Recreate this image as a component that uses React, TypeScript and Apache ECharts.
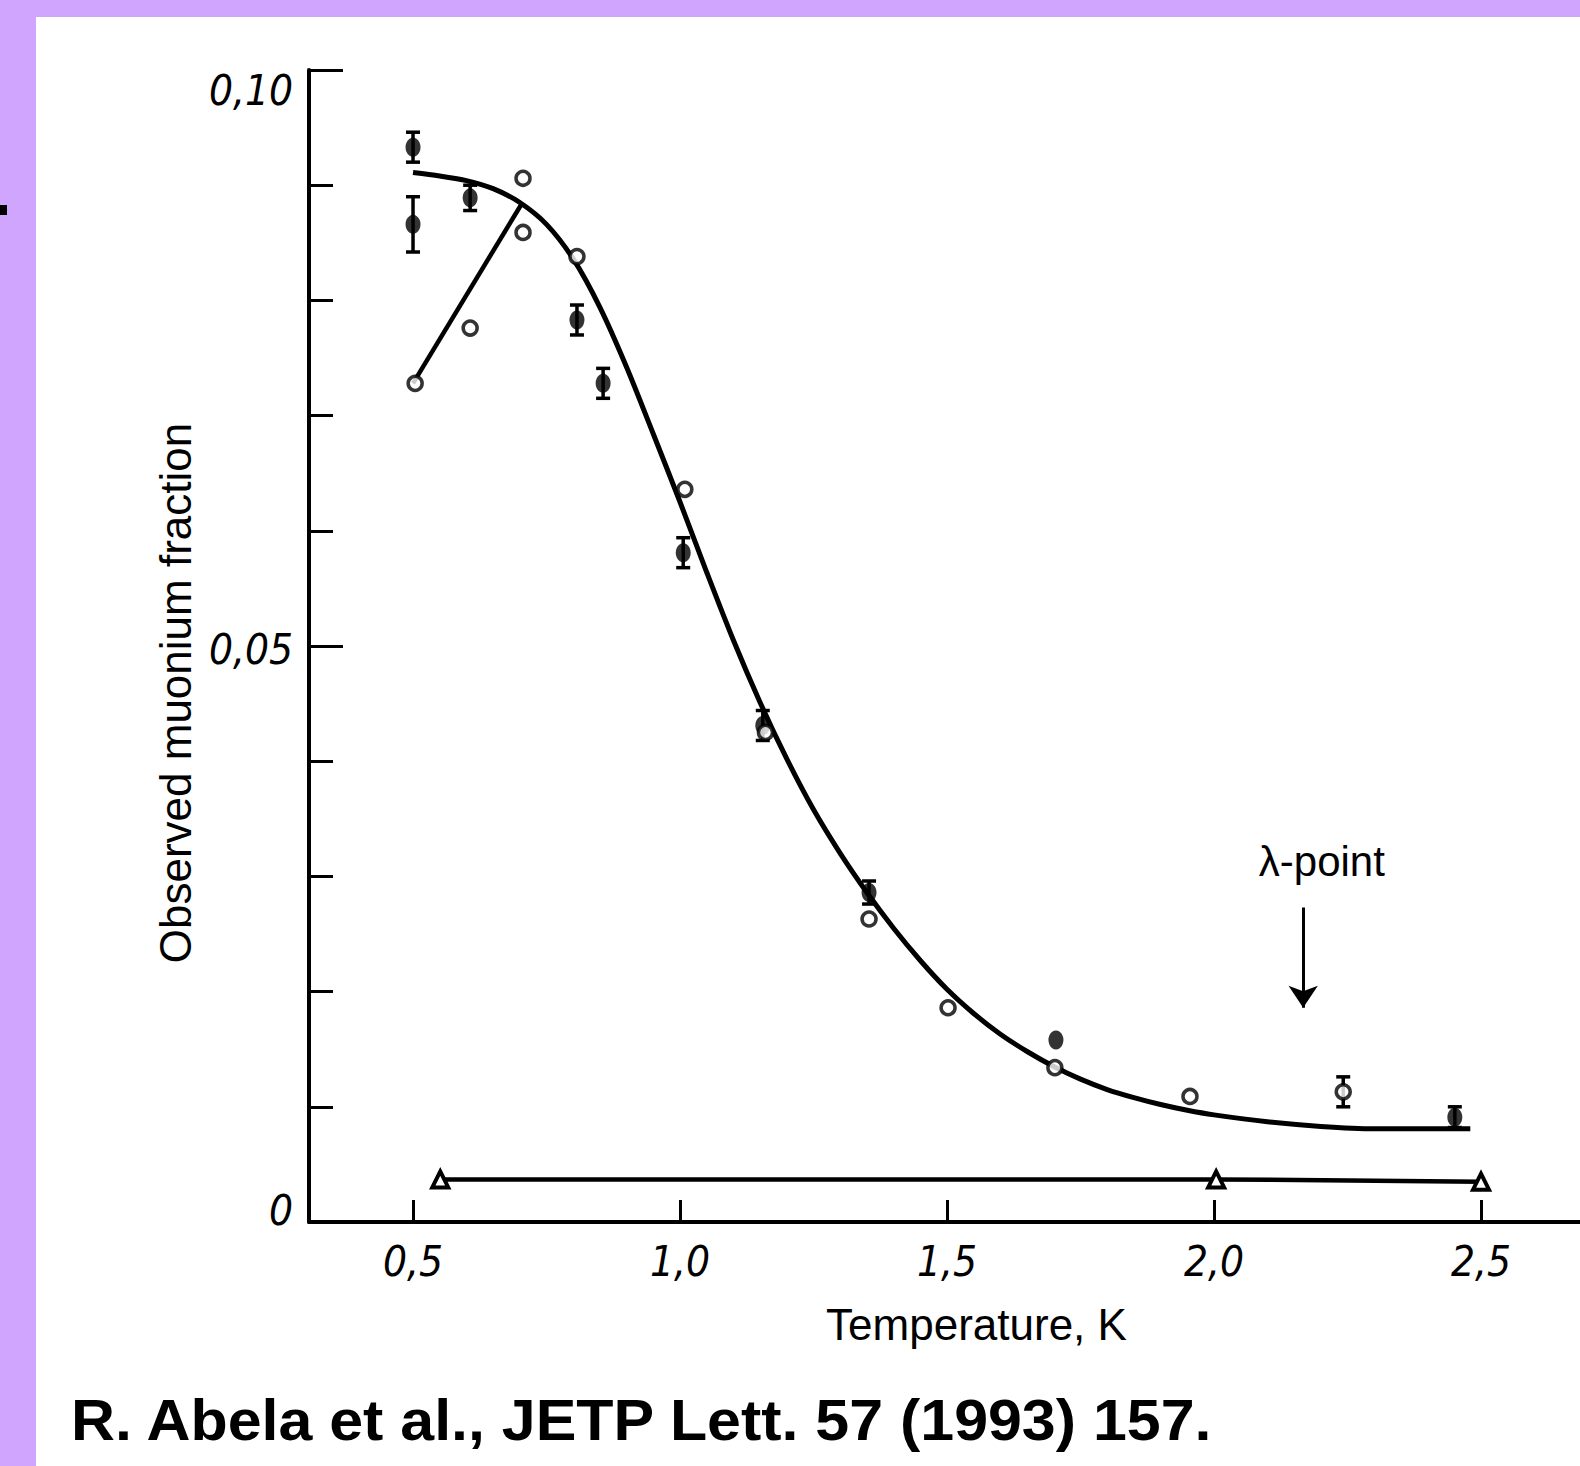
import React, { useEffect, useRef } from "react";
import * as echarts from "echarts";

// Fitted curve (solid line)
const curveT = [0.5, 0.55, 0.6, 0.65, 0.7, 0.75, 0.8, 0.85, 0.9, 0.95, 1.0, 1.05, 1.1, 1.15, 1.2, 1.25, 1.3, 1.35, 1.4, 1.45, 1.5, 1.55, 1.6, 1.65, 1.7, 1.75, 1.8, 1.85, 1.9, 1.95, 2.0, 2.1, 2.2, 2.3, 2.4, 2.48];
const curveV = [0.0911, 0.0908, 0.0904, 0.0897, 0.0885, 0.0866, 0.0836, 0.0794, 0.0742, 0.0684, 0.0625, 0.0564, 0.0505, 0.0451, 0.0402, 0.0358, 0.032, 0.0286, 0.0255, 0.0227, 0.0202, 0.0181, 0.0163, 0.0148, 0.0135, 0.0124, 0.0115, 0.0108, 0.0102, 0.0097, 0.0093, 0.0087, 0.0083, 0.0081, 0.0081, 0.0081];

// Lower straight branch (open circles)
const branchT = [0.5, 0.705];
const branchV = [0.0728, 0.0885];

// Filled points with error bars
const filledT = [0.5, 0.5, 0.607, 0.807, 0.856, 1.006, 1.155, 1.354, 1.704, 2.451];
const filledV = [0.0933, 0.0866, 0.0889, 0.0783, 0.0728, 0.0581, 0.0431, 0.0286, 0.0158, 0.0091];
const filledErr = [0.0013, 0.0024, 0.0011, 0.0013, 0.0013, 0.0013, 0.0013, 0.001, 0, 0.0009];

// Open circles
const openT = [0.504, 0.607, 0.706, 0.706, 0.807, 1.009, 1.16, 1.354, 1.502, 1.702, 1.955, 2.242];
const openV = [0.0728, 0.0776, 0.0906, 0.0859, 0.0838, 0.0636, 0.0425, 0.0263, 0.0186, 0.0134, 0.0109, 0.0113];
const openErr = [0, 0, 0, 0, 0, 0, 0, 0, 0, 0, 0, 0.0013];

// Open triangles (background)
const triT = [0.551, 2.004, 2.5];
const triV = [0.0037, 0.0037, 0.0035];

// Axis ticks / labels
const xTicks = [0.5, 1.0, 1.5, 2.0, 2.5];
const lambdaT = 2.167;
const lambdaArrowV = [0.0273, 0.0186];
const lambdaLabel = { t: 2.202, v: 0.0313, text: "λ-point" };

const PURPLE = "#CFA5FD";
const DIGIT_FONT = "'Liberation Sans Narrow', 'DejaVu Sans Condensed', 'Liberation Sans', Arial, sans-serif";
const TEXT_FONT = "'Liberation Sans', Arial, Helvetica, sans-serif";

function errorBarRender(params: any, api: any) {
  const x = api.value(0);
  const y = api.value(1);
  const e = api.value(2);
  if (!e) return { type: "group", children: [] };
  const top = api.coord([x, y + e]);
  const bot = api.coord([x, y - e]);
  const cw = 7;
  const st = { stroke: "#000", lineWidth: 3.5 };
  return {
    type: "group",
    children: [
      { type: "line", shape: { x1: top[0], y1: top[1], x2: bot[0], y2: bot[1] }, style: st },
      { type: "line", shape: { x1: top[0] - cw, y1: top[1], x2: top[0] + cw, y2: top[1] }, style: st },
      { type: "line", shape: { x1: bot[0] - cw, y1: bot[1], x2: bot[0] + cw, y2: bot[1] }, style: st },
    ],
  };
}

export default function App() {
  const ref = useRef<HTMLDivElement>(null);
  useEffect(() => {
    document.body.style.margin = "0";
    if (!ref.current) return;
    const chart = echarts.init(ref.current, null, { renderer: "svg" });
    const near = (a: number, b: number) => Math.abs(a - b) < 1e-6;
    const digit = { fontFamily: DIGIT_FONT, fontStyle: "italic", fontSize: 42, color: "#000" };
    const option: any = {
      animation: false,
      backgroundColor: "#fff",
      grid: { left: 309, top: 70, right: 0, bottom: 244, outerBoundsMode: "none" },
      xAxis: {
        type: "value",
        min: 0.3052,
        max: 2.6854,
        name: "Temperature, K",
        nameLocation: "middle",
        nameGap: 80,
        nameTextStyle: { fontFamily: TEXT_FONT, fontSize: 44, color: "#000", padding: [0, 0, 0, 64] },
        axisLine: { lineStyle: { color: "#000", width: 4 } },
        axisTick: { inside: true, length: 22, lineStyle: { color: "#000", width: 3 }, customValues: xTicks },
        axisLabel: {
          customValues: xTicks,
          formatter: (v: number) => v.toFixed(1).replace(".", ","),
          fontFamily: DIGIT_FONT,
          fontStyle: "italic",
          fontSize: 42,
          color: "#000",
          margin: 18,
        },
        splitLine: { show: false },
      },
      yAxis: {
        type: "value",
        min: 0,
        max: 0.1,
        interval: 0.05,
        name: "Observed muonium fraction",
        nameLocation: "middle",
        nameGap: 104,
        nameTextStyle: { fontFamily: TEXT_FONT, fontSize: 44, color: "#000", padding: [0, 94, 0, 0] },
        axisLine: { lineStyle: { color: "#000", width: 4 } },
        axisTick: { inside: true, length: 34, lineStyle: { color: "#000", width: 3 } },
        minorTick: { show: true, splitNumber: 5, length: 24, lineStyle: { color: "#000", width: 3 } },
        axisLabel: {
          margin: 16,
          formatter: (v: number) => {
            if (near(v, 0.1)) return "{t|0,10}";
            if (near(v, 0.05)) return "{m|0,05}";
            if (near(v, 0)) return "{b|0}";
            return "";
          },
          rich: {
            t: { ...digit, padding: [40, 0, 0, 0] },
            m: { ...digit, padding: [6, 0, 0, 0] },
            b: { ...digit, padding: [0, 0, 24, 0] },
          },
        },
        splitLine: { show: false },
        minorSplitLine: { show: false },
      },
      graphic: [
        { type: "rect", shape: { x: 0, y: 0, width: 1580, height: 17 }, style: { fill: PURPLE }, silent: true },
        { type: "rect", shape: { x: 0, y: 0, width: 36, height: 1466 }, style: { fill: PURPLE }, silent: true },
        { type: "rect", shape: { x: 0, y: 205, width: 7, height: 10 }, style: { fill: "#000" }, silent: true },
        {
          type: "text",
          x: 71,
          y: 1420,
          scaleX: 1.05,
          style: {
            text: "R. Abela et al., JETP Lett. 57 (1993) 157.",
            fontFamily: TEXT_FONT,
            fontWeight: "bold",
            fontSize: 58,
            fill: "#000",
            align: "left",
            verticalAlign: "middle",
          },
        },
      ],
      series: [
        {
          name: "fit",
          type: "line",
          data: curveT.map((t, i) => [t, curveV[i]]),
          smooth: 0.3,
          showSymbol: false,
          lineStyle: { color: "#000", width: 5 },
          silent: true,
          z: 2,
          markLine: {
            silent: true,
            symbol: ["none", "arrow"],
            symbolSize: 22,
            label: { show: false },
            lineStyle: { color: "#000", width: 3, type: "solid" },
            data: [[{ coord: [lambdaT, lambdaArrowV[0]] }, { coord: [lambdaT, lambdaArrowV[1]] }]],
          },
          markPoint: {
            silent: true,
            symbol: "circle",
            symbolSize: 0,
            label: {
              show: true,
              position: "inside",
              formatter: lambdaLabel.text,
              fontFamily: TEXT_FONT,
              fontSize: 42,
              color: "#000",
            },
            data: [{ coord: [lambdaLabel.t, lambdaLabel.v] }],
          },
        },
        {
          name: "branch",
          type: "line",
          data: branchT.map((t, i) => [t, branchV[i]]),
          showSymbol: false,
          lineStyle: { color: "#000", width: 4.5 },
          silent: true,
          z: 2,
        },
        {
          name: "background",
          type: "line",
          data: triT.map((t, i) => [t, triV[i]]),
          symbol: "triangle",
          symbolSize: 16,
          showSymbol: true,
          itemStyle: { color: "#fff", borderColor: "#000", borderWidth: 4 },
          lineStyle: { color: "#000", width: 4.5 },
          silent: true,
          z: 3,
        },
        {
          name: "filled err",
          type: "custom",
          renderItem: errorBarRender,
          data: filledT.map((t, i) => [t, filledV[i], filledErr[i]]),
          encode: { x: 0, y: 1 },
          silent: true,
          z: 4,
        },
        {
          name: "open err",
          type: "custom",
          renderItem: errorBarRender,
          data: openT.map((t, i) => [t, openV[i], openErr[i]]),
          encode: { x: 0, y: 1 },
          silent: true,
          z: 4,
        },
        {
          name: "filled",
          type: "scatter",
          data: filledT.map((t, i) => [t, filledV[i]]),
          symbol: "circle",
          symbolSize: [15, 19],
          itemStyle: { color: "#000" },
          silent: true,
          z: 5,
        },
        {
          name: "open",
          type: "scatter",
          data: openT.map((t, i) => [t, openV[i]]),
          symbol: "circle",
          symbolSize: 14,
          itemStyle: { color: "#fff", borderColor: "#000", borderWidth: 3.5 },
          silent: true,
          z: 6,
        },
      ],
    };
    chart.setOption(option);
    return () => chart.dispose();
  }, []);
  return <div ref={ref} style={{ position: "fixed", left: 0, top: 0, width: 1580, height: 1466 }} />;
}
